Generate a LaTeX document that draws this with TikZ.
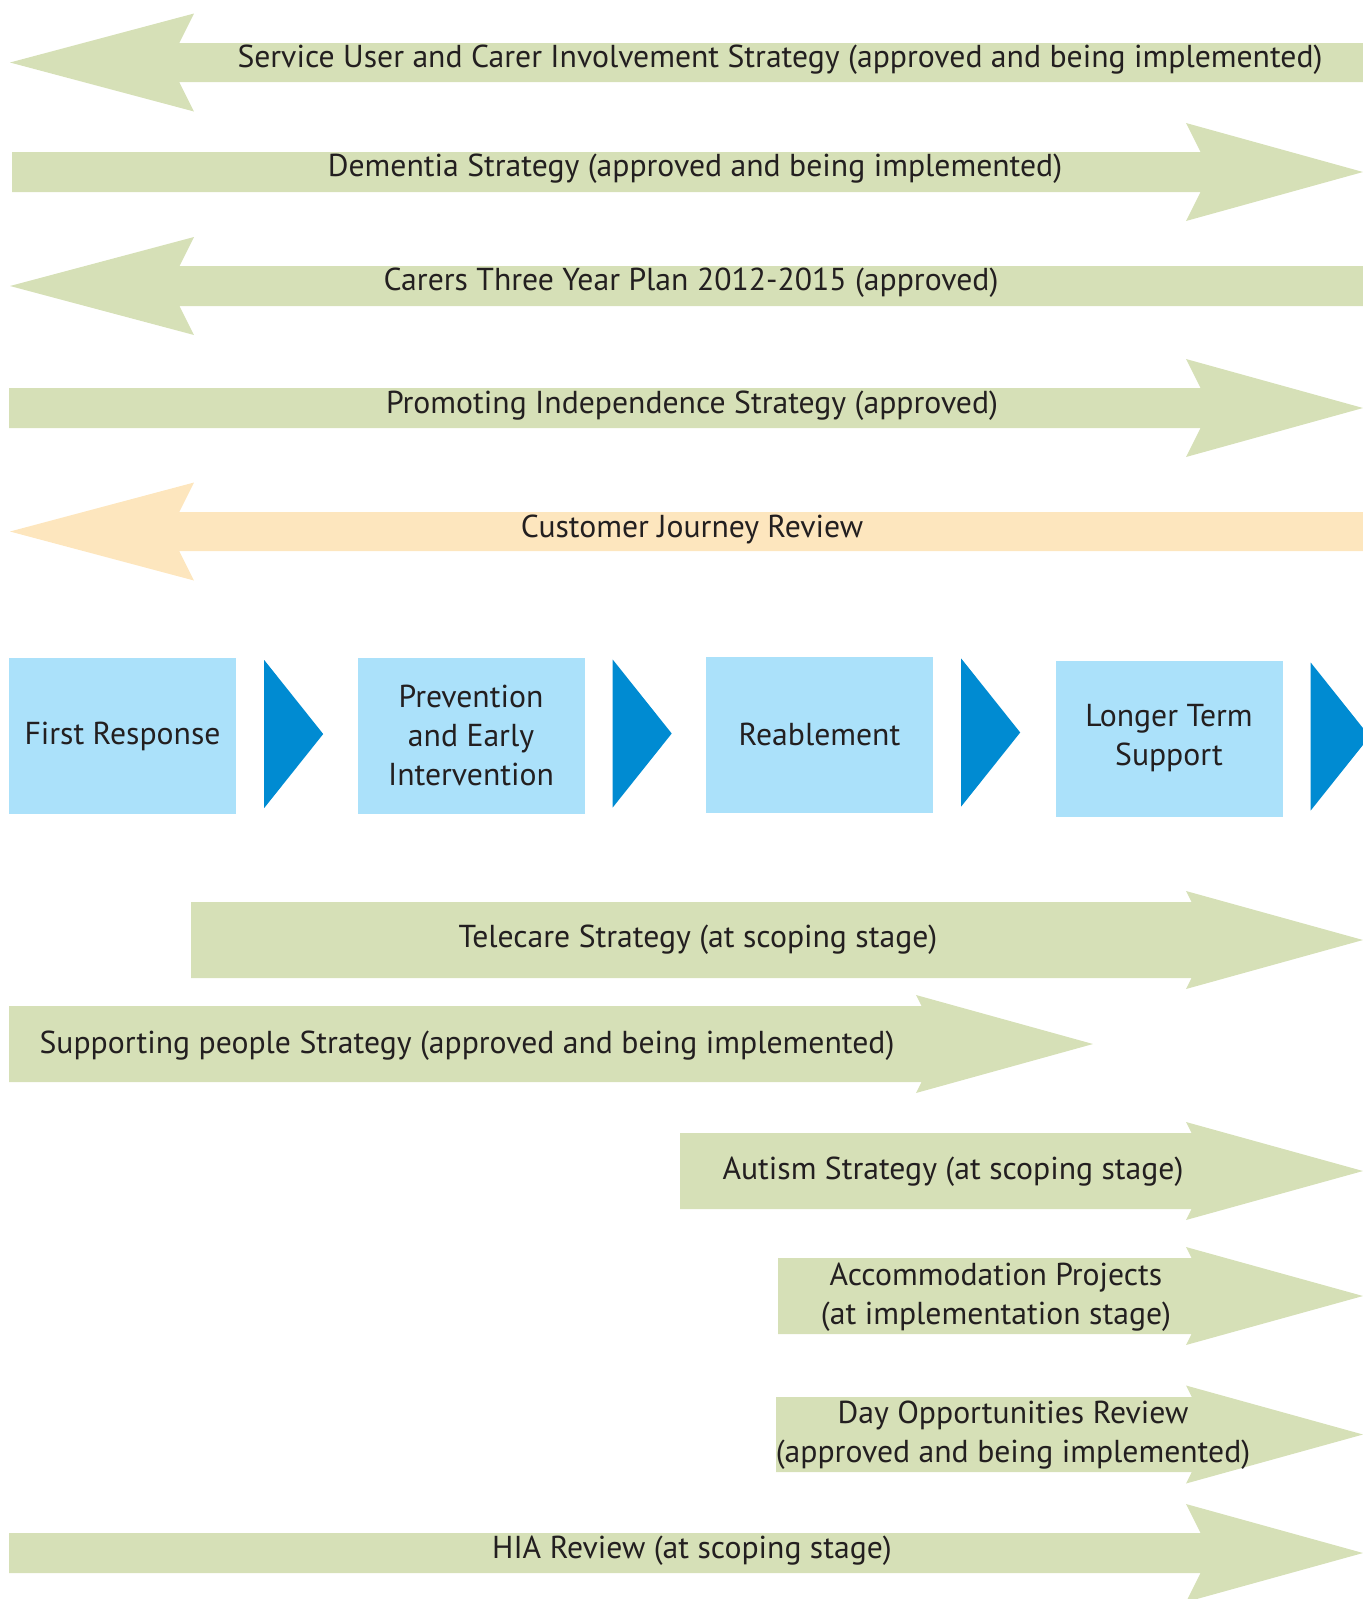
\documentclass[tikz,border=0pt]{standalone}
\usepackage{fontspec}
\setmainfont{PT Sans}
\usetikzlibrary{calc}

\definecolor{sage}{RGB}{214,224,183}
\definecolor{peach}{RGB}{253,230,190}
\definecolor{skyfill}{RGB}{171,225,250}
\definecolor{deepblue}{RGB}{0,139,210}
\definecolor{ink}{RGB}{35,31,32}

% #1 colour, #2 left end, #3 centre, #4 half shaft, #5 tip
\newcommand\arrowR[5]{\fill[#1] (#2,#3-#4)--({#5-177+0.5*(49-#4)},#3-#4)--(#5-177,#3-49)--(#5,#3)--(#5-177,#3+49)--({#5-177+0.5*(49-#4)},#3+#4)--(#2,#3+#4)--cycle;}
% #1 colour, #2 centre, #3 half shaft
\newcommand\arrowL[3]{\fill[#1] (1370,#2-#3)--({194-0.5*(49-#3)},#2-#3)--(194,#2-49)--(10,#2)--(194,#2+49)--({194-0.5*(49-#3)},#2+#3)--(1370,#2+#3)--cycle;}

\begin{document}
\begin{tikzpicture}[x=1pt,y=-1pt,font=\fontsize{31.7}{39}\selectfont,text=ink,
  lbl/.style={inner sep=0pt,align=center},
  stage/.style={fill=skyfill,minimum width=227pt,minimum height=156pt,inner sep=0pt,align=center},
  chev/.style={fill=deepblue}]
\useasboundingbox (0,0) rectangle (1363,1599);
\arrowL{sage}{62.5}{19.5}
\arrowR{sage}{12}{172}{20}{1363}
\arrowL{sage}{286}{20}
\arrowR{sage}{9}{408}{20}{1363}
\arrowL{peach}{531.5}{19.5}
\node[lbl] (invol) at (780,60) {Service User and Carer Involvement Strategy (approved and being implemented)};
\node[lbl] (dem) at (695,169) {Dementia Strategy (approved and being implemented)};
\node[lbl] (carers) at (691,283) {Carers Three Year Plan 2012-2015 (approved)};
\node[lbl] (indep) at (692,406) {Promoting Independence Strategy (approved)};
\node[lbl] (journey) at (692,529) {Customer Journey Review};
% pathway
\node[stage] (first) at (122.5,736) {First Response};
\node[stage] (prev) at (471,735.5) {Prevention\\and Early\\Intervention};
\node[stage] (reab) at (819.5,734.5) {Reablement};
\node[stage] (longer) at (1169,738.5) {Longer Term\\Support};
\foreach \b in {first,prev,reab,longer}
  \fill[chev] ($(\b.east)+(28,-76)$)--++(59,74)--++(-59,74)--cycle;
% lower strategies
\arrowR{sage}{191}{940}{38}{1363}
\arrowR{sage}{9}{1044}{38}{1093}
\arrowR{sage}{680}{1171}{38}{1363}
\arrowR{sage}{778}{1296}{38}{1363}
\arrowR{sage}{776}{1434.5}{37.5}{1363}
\arrowR{sage}{9}{1553}{20}{1363}
\node[lbl] (tele) at (698,940) {Telecare Strategy (at scoping stage)};
\node[lbl] (supp) at (467,1046) {Supporting people Strategy (approved and being implemented)};
\node[lbl] (autism) at (953,1172) {Autism Strategy (at scoping stage)};
\node[lbl] (accom) at (996,1297) {Accommodation Projects\\(at implementation stage)};
\node[lbl] (day) at (1013,1435) {Day Opportunities Review\\(approved and being implemented)};
\node[lbl] (hia) at (692,1551) {HIA Review (at scoping stage)};
\end{tikzpicture}
\end{document}
